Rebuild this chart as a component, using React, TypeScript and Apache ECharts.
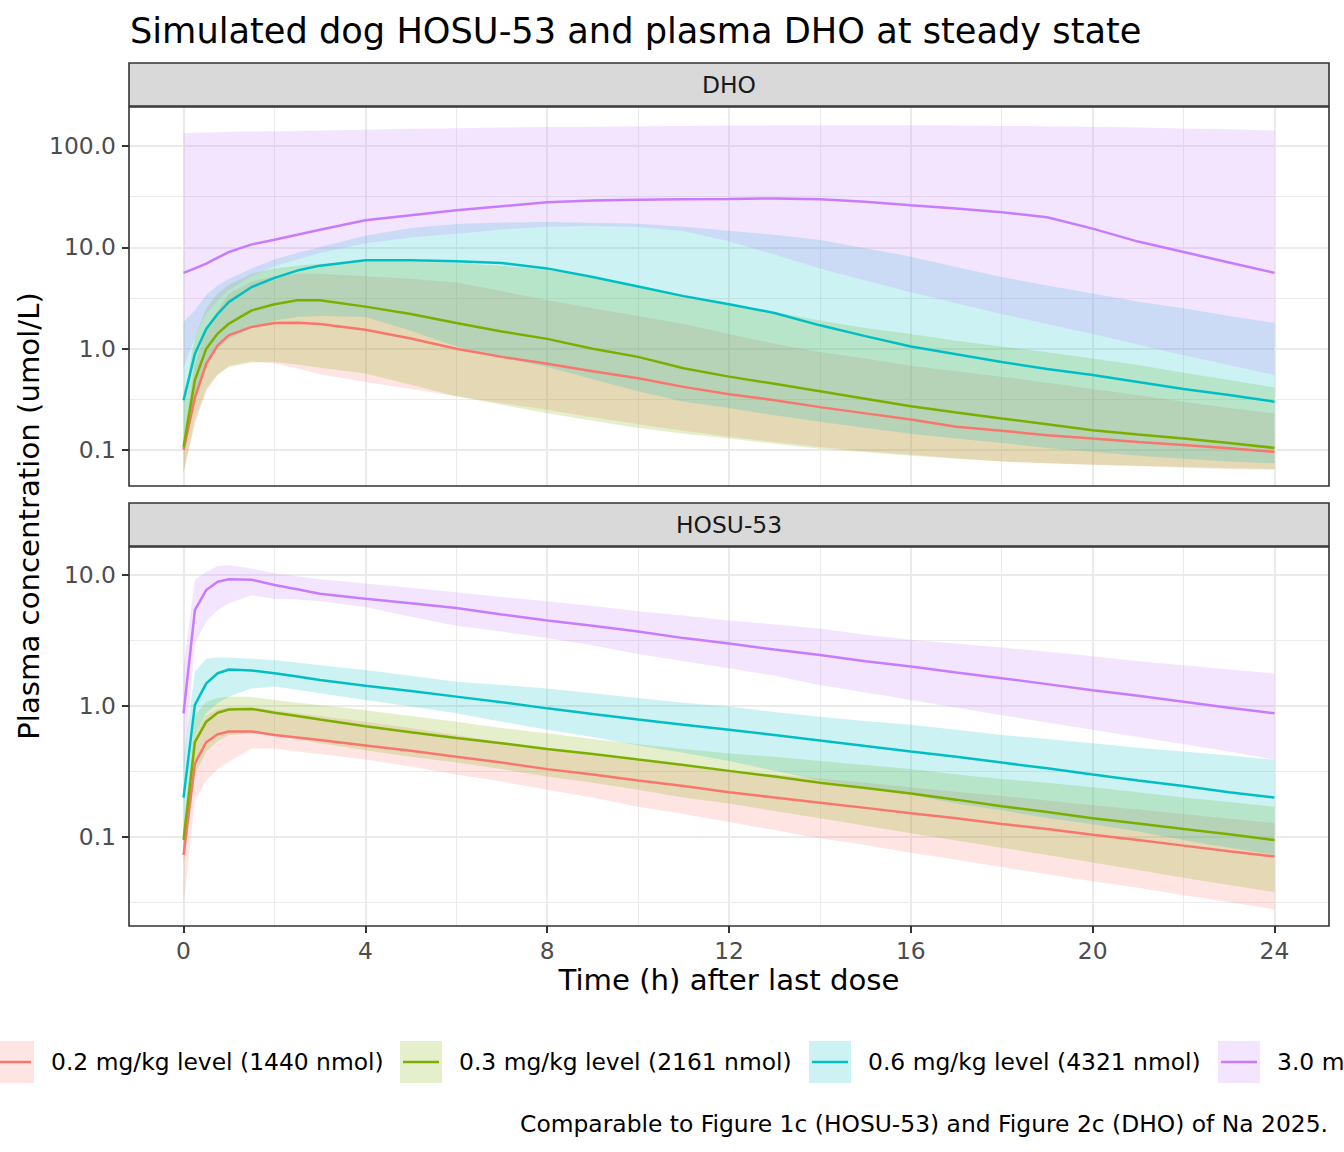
import { useEffect, useRef } from "react";
import * as echarts from "echarts";

const FONT = "DejaVu Sans";

// hours after last dose
const times = [0, 0.25, 0.5, 0.75, 1, 1.5, 2, 2.5, 3, 4, 5, 6, 7, 8, 9, 10, 11, 12, 13, 14, 15, 16, 17, 18, 19, 20, 21, 22, 23, 24];

const doseNames = [
  "0.2 mg/kg level (1440 nmol)",
  "0.3 mg/kg level (2161 nmol)",
  "0.6 mg/kg level (4321 nmol)",
  "3.0 mg/kg level (21606 nmol)",
];
const doseColors = ["#F8766D", "#7CAE00", "#00BFC4", "#C77CFF"];

// DHO, umol/L
const dho02Median = [0.10, 0.33, 0.71, 1.08, 1.36, 1.64, 1.79, 1.80, 1.75, 1.54, 1.26, 1.00, 0.83, 0.71, 0.60, 0.51, 0.42, 0.355, 0.31, 0.265, 0.23, 0.20, 0.17, 0.155, 0.14, 0.13, 0.12, 0.112, 0.104, 0.096];
const dho02Lower = [0.06, 0.18, 0.38, 0.55, 0.68, 0.75, 0.72, 0.64, 0.56, 0.47, 0.40, 0.34, 0.29, 0.25, 0.21, 0.18, 0.155, 0.135, 0.12, 0.107, 0.097, 0.09, 0.083, 0.077, 0.074, 0.071, 0.069, 0.067, 0.065, 0.064];
const dho02Upper = [0.13, 0.7, 1.6, 2.4, 3.5, 4.6, 5.2, 5.5, 5.5, 5.2, 4.9, 4.5, 3.7, 3.0, 2.5, 2.1, 1.75, 1.4, 1.12, 0.93, 0.8, 0.68, 0.6, 0.53, 0.46, 0.4, 0.35, 0.3, 0.26, 0.23];

const dho03Median = [0.107, 0.49, 1.0, 1.41, 1.77, 2.39, 2.74, 3.0, 3.0, 2.6, 2.2, 1.79, 1.48, 1.25, 1.0, 0.83, 0.64, 0.53, 0.45, 0.38, 0.32, 0.27, 0.235, 0.205, 0.18, 0.157, 0.142, 0.13, 0.117, 0.105];
const dho03Lower = [0.06, 0.2, 0.4, 0.56, 0.66, 0.73, 0.74, 0.7, 0.65, 0.57, 0.44, 0.34, 0.28, 0.23, 0.195, 0.165, 0.145, 0.13, 0.115, 0.103, 0.095, 0.088, 0.082, 0.077, 0.074, 0.072, 0.07, 0.068, 0.066, 0.065];
const dho03Upper = [0.3, 1.3, 2.5, 3.5, 4.3, 5.5, 6.2, 6.6, 6.9, 7.2, 7.2, 7.0, 6.6, 6.0, 5.1, 4.2, 3.4, 2.8, 2.3, 1.9, 1.6, 1.4, 1.2, 1.05, 0.92, 0.8, 0.69, 0.58, 0.49, 0.415];

const dho06Median = [0.31, 0.89, 1.57, 2.2, 2.9, 4.06, 5.0, 5.9, 6.6, 7.45, 7.45, 7.3, 7.0, 6.2, 5.1, 4.1, 3.3, 2.75, 2.25, 1.7, 1.33, 1.05, 0.88, 0.74, 0.63, 0.55, 0.47, 0.40, 0.35, 0.30];
const dho06Lower = [0.1, 0.35, 0.7, 1.0, 1.25, 1.6, 1.9, 2.05, 2.1, 2.05, 1.5, 1.05, 0.82, 0.66, 0.5, 0.38, 0.3, 0.26, 0.22, 0.19, 0.165, 0.145, 0.13, 0.117, 0.105, 0.096, 0.088, 0.082, 0.077, 0.074];
const dho06Upper = [1.83, 2.4, 3.4, 4.2, 4.9, 6.2, 7.6, 8.8, 10.1, 13.0, 15.5, 17.0, 17.6, 17.8, 17.5, 17.1, 16.0, 14.6, 13.3, 11.8, 9.8, 8.1, 6.4, 5.1, 4.2, 3.5, 2.9, 2.5, 2.1, 1.8];

const dho30Median = [5.6, 6.2, 6.9, 7.9, 9.0, 10.7, 11.9, 13.3, 14.9, 18.5, 20.7, 23.2, 25.5, 27.8, 29.0, 29.5, 29.8, 30.0, 30.4, 29.8, 28.2, 26.0, 24.2, 22.2, 19.8, 15.3, 11.4, 9.0, 7.1, 5.6];
const dho30Lower = [0.65, 1.3, 2.2, 3.0, 3.8, 5.2, 6.5, 7.6, 8.8, 11.0, 12.5, 13.6, 15.0, 16.0, 16.2, 15.9, 14.5, 11.5, 8.5, 6.2, 4.7, 3.6, 2.8, 2.2, 1.75, 1.4, 1.1, 0.86, 0.69, 0.55];
const dho30Upper = [133, 135, 136, 137, 138, 139, 140, 141, 142, 145, 148, 150, 152, 154, 155, 157, 158, 159, 160, 160, 160, 160, 159, 158, 157, 155, 152, 149, 146, 142];

// HOSU-53, umol/L
const hosu02Median = [0.073, 0.365, 0.53, 0.61, 0.64, 0.64, 0.60, 0.575, 0.55, 0.50, 0.455, 0.41, 0.37, 0.33, 0.30, 0.27, 0.245, 0.22, 0.20, 0.183, 0.167, 0.152, 0.139, 0.126, 0.115, 0.104, 0.095, 0.086, 0.078, 0.071];
const hosu02Lower = [0.03, 0.19, 0.27, 0.33, 0.376, 0.475, 0.475, 0.45, 0.43, 0.39, 0.345, 0.30, 0.265, 0.23, 0.2, 0.17, 0.15, 0.13, 0.113, 0.098, 0.087, 0.076, 0.067, 0.059, 0.052, 0.046, 0.041, 0.036, 0.032, 0.028];
const hosu02Upper = [0.1, 0.6, 0.85, 0.95, 0.98, 0.98, 0.93, 0.88, 0.84, 0.76, 0.68, 0.6, 0.53, 0.47, 0.42, 0.38, 0.345, 0.32, 0.3, 0.28, 0.26, 0.24, 0.222, 0.206, 0.19, 0.175, 0.162, 0.15, 0.138, 0.128];

const hosu03Median = [0.095, 0.53, 0.76, 0.89, 0.94, 0.95, 0.89, 0.84, 0.79, 0.70, 0.63, 0.57, 0.52, 0.47, 0.43, 0.39, 0.355, 0.32, 0.29, 0.26, 0.237, 0.215, 0.193, 0.172, 0.155, 0.139, 0.127, 0.115, 0.105, 0.095];
const hosu03Lower = [0.06, 0.3, 0.45, 0.54, 0.6, 0.62, 0.6, 0.56, 0.52, 0.46, 0.41, 0.37, 0.33, 0.29, 0.26, 0.23, 0.2, 0.18, 0.158, 0.139, 0.122, 0.107, 0.094, 0.083, 0.073, 0.064, 0.056, 0.049, 0.043, 0.038];
const hosu03Upper = [0.12, 0.85, 1.08, 1.15, 1.18, 1.17, 1.11, 1.06, 1.02, 0.93, 0.84, 0.76, 0.68, 0.62, 0.56, 0.51, 0.47, 0.435, 0.41, 0.38, 0.355, 0.33, 0.3, 0.277, 0.26, 0.24, 0.22, 0.2, 0.185, 0.17];

const hosu06Median = [0.2, 1.02, 1.49, 1.78, 1.9, 1.87, 1.78, 1.68, 1.58, 1.43, 1.3, 1.18, 1.07, 0.96, 0.87, 0.79, 0.72, 0.66, 0.6, 0.545, 0.495, 0.45, 0.41, 0.37, 0.335, 0.3, 0.27, 0.245, 0.22, 0.2];
const hosu06Lower = [0.08, 0.6, 0.88, 1.05, 1.18, 1.36, 1.41, 1.33, 1.25, 1.11, 0.99, 0.88, 0.76, 0.66, 0.58, 0.5, 0.44, 0.38, 0.32, 0.27, 0.24, 0.21, 0.18, 0.16, 0.14, 0.125, 0.11, 0.095, 0.083, 0.073];
const hosu06Upper = [0.4, 1.83, 2.3, 2.35, 2.35, 2.3, 2.24, 2.15, 2.05, 1.88, 1.7, 1.53, 1.45, 1.36, 1.25, 1.15, 1.06, 0.99, 0.9, 0.83, 0.77, 0.72, 0.66, 0.6, 0.56, 0.52, 0.48, 0.45, 0.42, 0.39];

const hosu30Median = [0.88, 5.4, 7.7, 8.9, 9.3, 9.2, 8.4, 7.8, 7.2, 6.6, 6.1, 5.6, 5.0, 4.5, 4.1, 3.7, 3.3, 3.0, 2.7, 2.45, 2.2, 2.0, 1.8, 1.63, 1.47, 1.32, 1.2, 1.08, 0.97, 0.88];
const hosu30Lower = [0.3, 3.0, 4.4, 5.4, 6.1, 7.0, 6.6, 6.5, 6.3, 5.7, 4.8, 4.1, 3.7, 3.3, 2.9, 2.5, 2.2, 1.94, 1.7, 1.45, 1.27, 1.11, 0.97, 0.85, 0.75, 0.66, 0.58, 0.51, 0.45, 0.39];
const hosu30Upper = [2.0, 9.2, 10.6, 11.7, 11.9, 11.2, 10.3, 9.8, 9.3, 8.6, 8.0, 7.4, 6.8, 6.3, 5.8, 5.3, 4.9, 4.5, 4.2, 3.9, 3.5, 3.2, 3.0, 2.8, 2.6, 2.4, 2.2, 2.05, 1.9, 1.77];

const xTicks = [0, 4, 8, 12, 16, 20, 24];
const xMinorTicks = [2, 6, 10, 14, 18, 22];
// y ticks in log10 units
const dhoTicks = [-1, 0, 1, 2];
const dhoMinorTicks = [-0.5, 0.5, 1.5];
const hosuTicks = [-1, 0, 1];
const hosuMinorTicks = [-1.5, -0.5, 0.5];

const panels = [
  {
    name: "DHO",
    top: 107,
    min: -1.355,
    max: 2.385,
    ticks: dhoTicks,
    minor: dhoMinorTicks,
    median: [dho02Median, dho03Median, dho06Median, dho30Median],
    lower: [dho02Lower, dho03Lower, dho06Lower, dho30Lower],
    upper: [dho02Upper, dho03Upper, dho06Upper, dho30Upper],
  },
  {
    name: "HOSU-53",
    top: 547,
    min: -1.679,
    max: 1.214,
    ticks: hosuTicks,
    minor: hosuMinorTicks,
    median: [hosu02Median, hosu03Median, hosu06Median, hosu30Median],
    lower: [hosu02Lower, hosu03Lower, hosu06Lower, hosu30Lower],
    upper: [hosu02Upper, hosu03Upper, hosu06Upper, hosu30Upper],
  },
];

const PANEL_LEFT = 129;
const PANEL_WIDTH = 1200;
const PANEL_HEIGHT = 379;
const STRIP_HEIGHT = 43;
const TEXT_SIZE = 23.4;

const rgba = (hex: string, a: number) => {
  const n = parseInt(hex.slice(1), 16);
  return `rgba(${(n >> 16) & 255},${(n >> 8) & 255},${n & 255},${a})`;
};

function buildOption() {
  const grid: any[] = [];
  const xAxis: any[] = [];
  const yAxis: any[] = [];
  const series: any[] = [];
  const graphic: any[] = [];

  panels.forEach((p, g) => {
    const isBottom = g === panels.length - 1;
    grid.push({ left: PANEL_LEFT, top: p.top, width: PANEL_WIDTH, height: PANEL_HEIGHT, show: false });

    xAxis.push({
      type: "value",
      gridIndex: g,
      position: "bottom",
      min: -1.2,
      max: 25.2,
      axisLine: { show: false, onZero: false },
      axisTick: { show: isBottom, length: 7, customValues: xTicks, lineStyle: { color: "#333333", width: 2 } },
      axisLabel: { show: isBottom, customValues: xTicks, margin: 13, color: "#4D4D4D", fontSize: TEXT_SIZE, fontFamily: FONT },
      splitLine: { show: true, lineStyle: { color: "#EBEBEB", width: 2 } },
    });
    xAxis.push({
      type: "value",
      gridIndex: g,
      position: "top",
      min: -1.2,
      max: 25.2,
      axisLine: { show: false, onZero: false },
      axisTick: { show: false, customValues: xMinorTicks },
      axisLabel: { show: false, customValues: xMinorTicks },
      splitLine: { show: true, lineStyle: { color: "#EBEBEB", width: 1 } },
    });

    yAxis.push({
      type: "value",
      gridIndex: g,
      position: "left",
      min: p.min,
      max: p.max,
      axisLine: { show: false, onZero: false },
      axisTick: { show: true, length: 7, customValues: p.ticks, lineStyle: { color: "#333333", width: 2 } },
      axisLabel: {
        customValues: p.ticks,
        margin: 13,
        color: "#4D4D4D",
        fontSize: TEXT_SIZE,
        fontFamily: FONT,
        formatter: (v: number) => Math.pow(10, v).toFixed(1),
      },
      splitLine: { show: true, lineStyle: { color: "#EBEBEB", width: 2 } },
    });
    yAxis.push({
      type: "value",
      gridIndex: g,
      position: "right",
      min: p.min,
      max: p.max,
      axisLine: { show: false, onZero: false },
      axisTick: { show: false, customValues: p.minor },
      axisLabel: { show: false, customValues: p.minor },
      splitLine: { show: true, lineStyle: { color: "#EBEBEB", width: 1 } },
    });

    // ribbons
    p.lower.forEach((lo, k) => {
      const hi = p.upper[k];
      series.push({
        type: "custom",
        xAxisIndex: 2 * g,
        yAxisIndex: 2 * g,
        silent: true,
        clip: true,
        z: 2,
        data: times.map((t, i) => [t, Math.log10(lo[i]), Math.log10(hi[i])]),
        encode: { x: 0, y: [1, 2] },
        renderItem: (params: any, api: any) => {
          if (params.dataIndex !== 0) return null;
          const top = times.map((t, i) => api.coord([t, Math.log10(hi[i])]));
          const bottom = times.map((t, i) => api.coord([t, Math.log10(lo[i])])).reverse();
          return {
            type: "polygon",
            shape: { points: top.concat(bottom) },
            style: { fill: rgba(doseColors[k], 0.2), stroke: "none" },
          };
        },
      });
    });

    // median lines
    p.median.forEach((m, k) => {
      series.push({
        type: "line",
        name: doseNames[k],
        xAxisIndex: 2 * g,
        yAxisIndex: 2 * g,
        silent: true,
        clip: true,
        z: 4,
        showSymbol: false,
        symbol: "none",
        data: times.map((t, i) => [t, Math.log10(m[i])]),
        lineStyle: { color: doseColors[k], width: 2.5 },
        itemStyle: { color: doseColors[k] },
      });
    });

    // strip and panel border
    graphic.push({
      type: "rect",
      shape: { x: PANEL_LEFT, y: p.top - STRIP_HEIGHT - 1, width: PANEL_WIDTH, height: STRIP_HEIGHT },
      style: { fill: "#D9D9D9", stroke: "#333333", lineWidth: 1.6 },
      z: 100,
    });
    graphic.push({
      type: "text",
      x: PANEL_LEFT + PANEL_WIDTH / 2,
      y: p.top - STRIP_HEIGHT / 2 - 1,
      style: { text: p.name, fill: "#1A1A1A", fontSize: TEXT_SIZE, fontFamily: FONT, align: "center", verticalAlign: "middle" },
      z: 101,
    });
    graphic.push({
      type: "rect",
      shape: { x: PANEL_LEFT, y: p.top, width: PANEL_WIDTH, height: PANEL_HEIGHT },
      style: { fill: "none", stroke: "#333333", lineWidth: 1.6 },
      z: 100,
    });
  });

  // titles
  graphic.push({
    type: "text",
    x: 130,
    y: 30,
    style: { text: "Simulated dog HOSU-53 and plasma DHO at steady state", fill: "#000", fontSize: 35.2, fontFamily: FONT, align: "left", verticalAlign: "middle" },
  });
  graphic.push({
    type: "text",
    x: 29,
    y: 516,
    rotation: Math.PI / 2,
    style: { text: "Plasma concentration (umol/L)", fill: "#000", fontSize: 29.2, fontFamily: FONT, align: "center", verticalAlign: "middle" },
  });
  graphic.push({
    type: "text",
    x: PANEL_LEFT + PANEL_WIDTH / 2,
    y: 980,
    style: { text: "Time (h) after last dose", fill: "#000", fontSize: 29.2, fontFamily: FONT, align: "center", verticalAlign: "middle" },
  });

  // legend (runs past both page edges, as in the source)
  const keyX = [-8, 400, 809, 1218];
  const textX = [51, 459, 868, 1277];
  const legendY = 1062;
  doseNames.forEach((name, k) => {
    graphic.push({
      type: "rect",
      shape: { x: keyX[k], y: legendY - 21, width: 42, height: 42 },
      style: { fill: rgba(doseColors[k], 0.2) },
    });
    graphic.push({
      type: "line",
      shape: { x1: keyX[k] + 3, y1: legendY, x2: keyX[k] + 39, y2: legendY },
      style: { stroke: doseColors[k], lineWidth: 2.5 },
    });
    graphic.push({
      type: "text",
      x: textX[k],
      y: legendY,
      style: { text: name, fill: "#000", fontSize: TEXT_SIZE, fontFamily: FONT, align: "left", verticalAlign: "middle" },
    });
  });

  graphic.push({
    type: "text",
    x: 1328,
    y: 1124,
    style: {
      text: "Comparable to Figure 1c (HOSU-53) and Figure 2c (DHO) of Na 2025.",
      fill: "#000",
      fontSize: TEXT_SIZE,
      fontFamily: FONT,
      align: "right",
      verticalAlign: "middle",
    },
  });

  return {
    animation: false,
    backgroundColor: "#FFFFFF",
    textStyle: { fontFamily: FONT },
    grid,
    xAxis,
    yAxis,
    series,
    graphic: { elements: graphic },
  };
}

export default function App() {
  const chartRef = useRef<HTMLDivElement | null>(null);

  useEffect(() => {
    if (!chartRef.current) return;
    const chart = echarts.init(chartRef.current, null, { renderer: "svg" });
    chart.setOption(buildOption());
    return () => {
      chart.dispose();
    };
  }, []);

  return (
    <div style={{ position: "fixed", left: 0, top: 0, width: 1344, height: 1152, background: "#FFFFFF" }}>
      <div ref={chartRef} style={{ width: 1344, height: 1152 }} />
    </div>
  );
}
